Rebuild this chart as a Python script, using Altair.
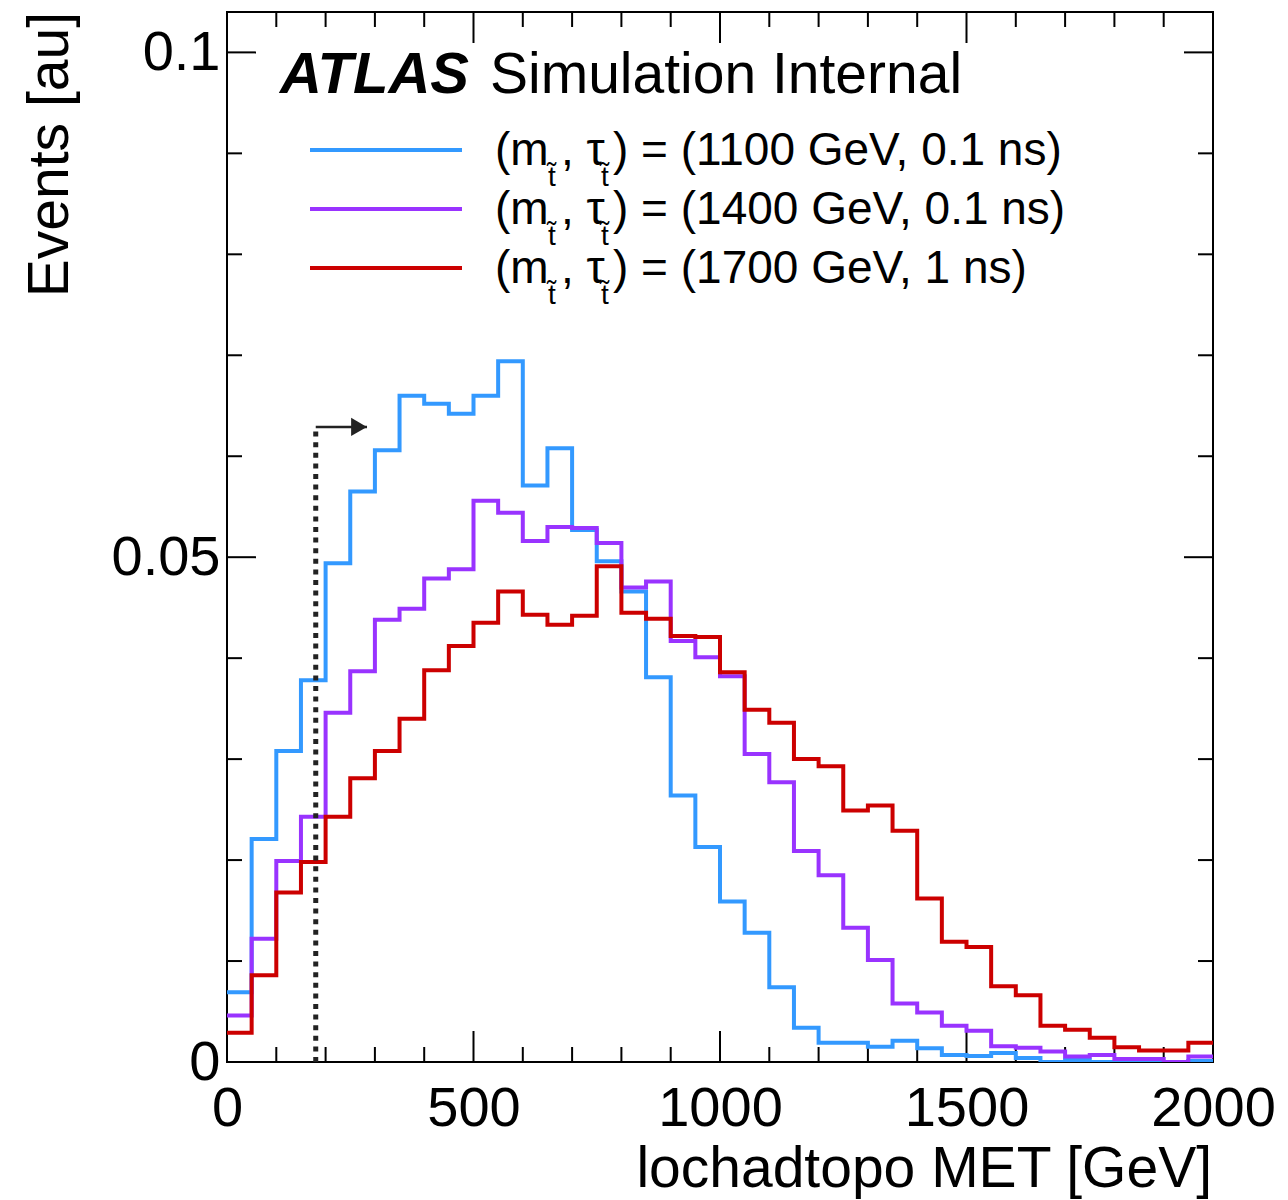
import altair as alt
import pandas as pd

FONT = "Liberation Sans"

# ---------------- data ----------------
bin_edges = list(range(0, 2050, 50))  # 0..2000, 40 bins of 50 GeV

blue_vals = [0.0069, 0.0221, 0.0308, 0.0378, 0.0494, 0.0565, 0.0606, 0.0660, 0.0652, 0.0642,
             0.0660, 0.0694, 0.0571, 0.0608, 0.0527, 0.0496, 0.0466, 0.0381, 0.0264, 0.0213,
             0.0159, 0.0128, 0.0074, 0.0034, 0.0019, 0.0019, 0.0015, 0.0021, 0.00135, 0.0007,
             0.0006, 0.0009, 0.0004, 0.0000, 0.0002, 0.0000, 0.0000, 0.0000, 0.0000, 0.0001]

purple_vals = [0.0046, 0.0122, 0.0199, 0.0243, 0.0346, 0.0387, 0.0438, 0.0449, 0.0479, 0.0488,
               0.0556, 0.0544, 0.0516, 0.0530, 0.0529, 0.0514, 0.0470, 0.0476, 0.0417, 0.0401,
               0.0382, 0.0305, 0.0277, 0.0209, 0.0185, 0.0133, 0.0101, 0.0058, 0.0049, 0.0036,
               0.0031, 0.00155, 0.0014, 0.00105, 0.00055, 0.0007, 0.0003, 0.0003, 0.0000, 0.00055]

red_vals = [0.0029, 0.0086, 0.0168, 0.0198, 0.0243, 0.0281, 0.0308, 0.0340, 0.0388, 0.0412,
            0.0435, 0.0466, 0.0443, 0.0433, 0.0442, 0.0491, 0.0445, 0.0439, 0.0422, 0.0421,
            0.0386, 0.0349, 0.0336, 0.0300, 0.0293, 0.0249, 0.0254, 0.0229, 0.0162, 0.0119,
            0.0114, 0.0075, 0.0066, 0.0036, 0.0032, 0.0024, 0.00145, 0.00115, 0.00115, 0.0019]

series_names = ["(1100 GeV, 0.1 ns)", "(1400 GeV, 0.1 ns)", "(1700 GeV, 1 ns)"]
series_vals = [blue_vals, purple_vals, red_vals]
series_colors = ["#3399ff", "#9933ff", "#cc0000"]

x_major = [0, 500, 1000, 1500, 2000]
x_minor = [100, 200, 300, 400, 600, 700, 800, 900, 1100, 1200, 1300, 1400,
           1600, 1700, 1800, 1900]
y_major = [0, 0.05, 0.1]
y_minor = [0.01, 0.02, 0.03, 0.04, 0.06, 0.07, 0.08, 0.09]

cut_value = 180
cut_height = 0.0629
arrow_tip = 284

# ---------------- layout ----------------
W, H = 986, 1050
X_MAX, Y_MAX = 2000, 0.104
MAJ, MIN_ = 31, 15

xs = alt.Scale(domain=[0, X_MAX], nice=False, zero=False)
ys = alt.Scale(domain=[0, Y_MAX], nice=False, zero=False)

x_axis = alt.Axis(
    values=x_major, ticks=False, tickSize=0, domain=False, grid=False,
    labelFontSize=56, labelFont=FONT, labelColor="black", labelPadding=19,
    labelFlush=False, labelOverlap=False, format="d", title=None)
y_axis = alt.Axis(
    values=y_major, ticks=False, tickSize=0, domain=False, grid=False,
    labelFontSize=56, labelFont=FONT, labelColor="black", labelPadding=7,
    labelFlush=False, labelOverlap=False, format=".2~f", title=None)


def X(field):
    return alt.X(field, scale=xs, axis=x_axis)


def Y(field):
    return alt.Y(field, scale=ys, axis=y_axis)


layers = []

# ticks (inside, ROOT style) on all four sides
def xticks(vals, length):
    d = pd.DataFrame({"v": vals})
    bot = alt.Chart(d).mark_rule(color="black", strokeWidth=2).encode(
        x=X("v:Q"), y=alt.value(H), y2=alt.value(H - length))
    top = alt.Chart(d).mark_rule(color="black", strokeWidth=2).encode(
        x=X("v:Q"), y=alt.value(0), y2=alt.value(length))
    return [bot, top]


def yticks(vals, length):
    d = pd.DataFrame({"v": vals})
    left = alt.Chart(d).mark_rule(color="black", strokeWidth=2).encode(
        y=Y("v:Q"), x=alt.value(0), x2=alt.value(length))
    right = alt.Chart(d).mark_rule(color="black", strokeWidth=2).encode(
        y=Y("v:Q"), x=alt.value(W), x2=alt.value(W - length))
    return [left, right]


layers += xticks(x_major, MAJ) + xticks(x_minor, MIN_)
layers += yticks(y_major, 29) + yticks(y_minor, MIN_)

# histograms
for name, vals, col in zip(series_names, series_vals, series_colors):
    df = pd.DataFrame({"x": bin_edges, "y": vals + [vals[-1]]})
    layers.append(
        alt.Chart(df).mark_line(interpolate="step-after", color=col, strokeWidth=4,
                                strokeJoin="miter", clip=True)
        .encode(x=X("x:Q"), y=Y("y:Q"), order=alt.Order("x:Q"))
    )

# cut marker: dotted vertical line + arrow
cut_df = pd.DataFrame({"x": [cut_value], "y0": [0.0], "y1": [cut_height], "tip": [arrow_tip]})
layers.append(
    alt.Chart(cut_df).mark_rule(color="#222222", strokeWidth=5, strokeDash=[5, 5.6]).encode(
        x=X("x:Q"), y=Y("y0:Q"), y2="y1:Q")
)
layers.append(
    alt.Chart(cut_df).mark_rule(color="#222222", strokeWidth=2.5).encode(
        x=X("x:Q"), x2="tip:Q", y=Y("y1:Q"))
)
layers.append(
    alt.Chart(cut_df).mark_point(shape="triangle-right", filled=True, color="#222222",
                                 size=330, opacity=1, strokeWidth=0).encode(
        x=X("tip:Q"), y=Y("y1:Q"), xOffset=alt.value(-8))
)

# ---------------- texts ----------------
def text(s, x, y, size, align="left", baseline="alphabetic", angle=0, weight="normal",
         style="normal"):
    kw = dict(font=FONT, fontSize=size, align=align, baseline=baseline, color="black",
              fontWeight=weight, fontStyle=style)
    if angle:
        kw["angle"] = angle
    return alt.Chart(pd.DataFrame({"t": [s]})).mark_text(**kw).encode(
        text="t:N", x=alt.value(x), y=alt.value(y))


layers.append(text("ATLAS", 53, 81, 58, weight="bold", style="italic"))
layers.append(text("Simulation Internal", 263, 81, 57))

# axis titles
layers.append(text("lochadtopo MET [GeV]", 985, 1175, 57, align="right"))
layers.append(text("Events [au]", -159, 0, 57, align="right", angle=270))

# legend
row_base = [153, 212, 271]
for name, col, yb in zip(series_names, series_colors, row_base):
    lg = pd.DataFrame({"a": [0]})
    layers.append(
        alt.Chart(lg).mark_rule(color=col, strokeWidth=4).encode(
            x=alt.value(83), x2=alt.value(235), y=alt.value(yb - 15))
    )
    layers.append(text("(m", 268, yb, 46))
    layers.append(text("t\u0303", 321, yb + 21, 28))
    layers.append(text(", \u03c4", 334, yb, 46))
    layers.append(text("t\u0303", 374, yb + 21, 28))
    layers.append(text(") = " + name, 386, yb, 46))

chart = alt.layer(*layers).properties(
    width=W, height=H,
    autosize=alt.AutoSizeParams(type="none"),
    padding={"left": 227, "top": 12, "right": 75, "bottom": 138},
).configure_view(stroke="black", strokeWidth=2)

chart.save("out.html", embed_options={"renderer": "svg", "actions": False})
